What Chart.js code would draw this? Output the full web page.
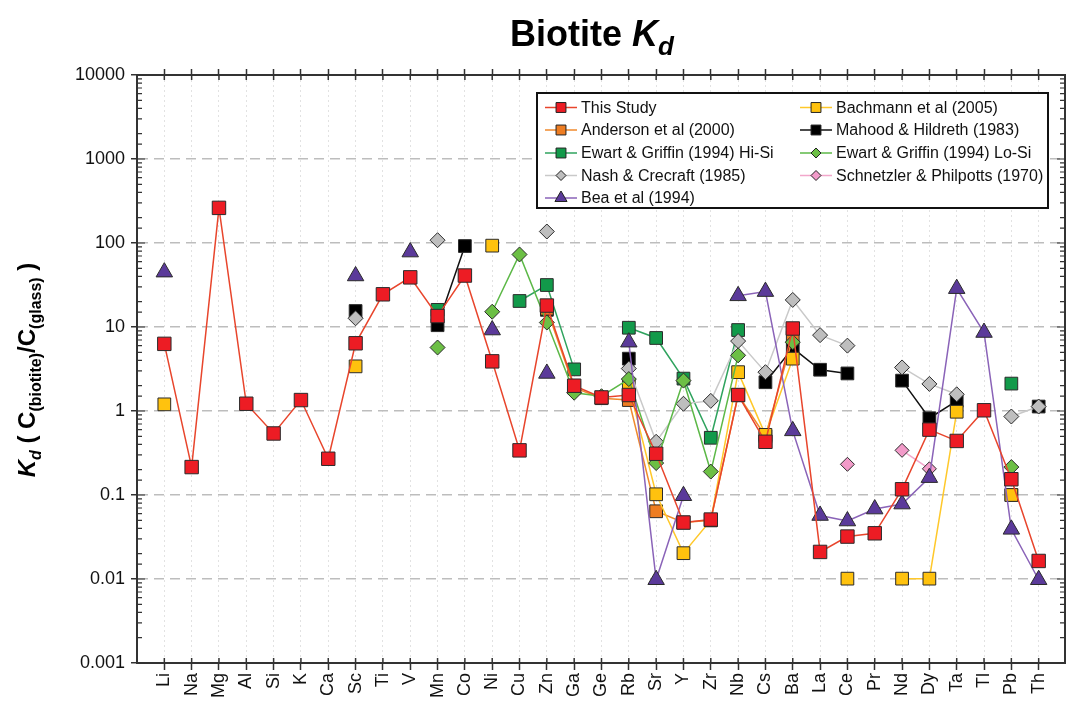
<!DOCTYPE html>
<html>
<head>
<meta charset="utf-8">
<title>Biotite Kd</title>
<script src="https://cdn.jsdelivr.net/npm/chart.js@4.4.1/dist/chart.umd.min.js"></script>
<style>
  html, body { margin: 0; padding: 0; background: #fff; }
  canvas { display: block; }
</style>
</head>
<body>
<canvas id="kdChart" width="1066" height="709"></canvas>
<script>
const NA = null;

// element order along the x axis
const elements = ['Li','Na','Mg','Al','Si','K','Ca','Sc','Ti','V','Mn','Co','Ni','Cu','Zn','Ga','Ge',
                  'Rb','Sr','Y','Zr','Nb','Cs','Ba','La','Ce','Pr','Nd','Dy','Ta','Tl','Pb','Th'];

// y axis decades
const decadeLabels = [0.001, 0.01, 0.1, 1, 10, 100, 1000, 10000];

// partition coefficients, one value per element (NA = not measured)
const thisStudy  = [6.3, 0.215, 262, 1.22, 0.54, 1.35, 0.27, 6.4, 24.5, 39, 13.5, 41, 3.9, 0.34, 18, 2.0, 1.45,
                    1.55, 0.31, 0.047, 0.051, 1.55, 0.43, 9.6, 0.021, 0.032, 0.035, 0.117, 0.6, 0.44, 1.02, 0.154, 0.0164];
const bachmann   = [1.2, NA, NA, NA, NA, NA, NA, 3.4, NA, NA, NA, NA, 93, NA, NA, NA, NA,
                    2.0, 0.102, 0.0203, 0.05, 2.9, 0.52, 4.2, NA, 0.0101, NA, 0.0101, 0.0101, 0.98, NA, 0.1, NA];
const anderson   = [NA, NA, NA, NA, NA, NA, NA, NA, NA, NA, NA, NA, NA, NA, 16.5, 1.9, 1.42,
                    1.35, 0.064, 0.047, 0.05, 1.55, 0.5, 7.5, NA, NA, NA, NA, NA, NA, NA, 0.1, NA];
const mahood     = [NA, NA, NA, NA, NA, NA, NA, 15.5, NA, NA, 10.5, 92, NA, NA, 16, NA, NA,
                    4.2, NA, NA, NA, NA, 2.2, 5.6, 3.1, 2.8, NA, 2.3, 0.82, 1.32, NA, NA, 1.13];
const ewartHiSi  = [NA, NA, NA, NA, NA, NA, NA, NA, NA, NA, 16, NA, NA, 20.4, 31.6, 3.13, NA,
                    9.8, 7.4, 2.43, 0.48, 9.2, NA, NA, NA, NA, NA, NA, NA, NA, NA, 2.12, NA];
const ewartLoSi  = [NA, NA, NA, NA, NA, NA, NA, NA, NA, NA, 5.7, NA, 15.2, 73, 11.3, 1.65, 1.5,
                    2.4, 0.24, 2.3, 0.19, 4.6, NA, 6.6, NA, NA, NA, NA, NA, NA, NA, 0.215, NA];
const nash       = [NA, NA, NA, NA, NA, NA, NA, 12.7, NA, NA, 108, NA, NA, NA, 137, NA, NA,
                    3.2, 0.43, 1.22, 1.32, 6.8, 2.9, 21, 8.0, 6.0, NA, 3.3, 2.1, 1.58, NA, 0.86, 1.13];
const schnetzler = [NA, NA, NA, NA, NA, NA, NA, NA, NA, NA, NA, NA, NA, NA, NA, NA, NA,
                    NA, NA, NA, NA, NA, NA, NA, NA, 0.232, NA, 0.34, 0.205, NA, NA, NA, NA];
const bea        = [45, NA, NA, NA, NA, NA, NA, 40.5, NA, 78, NA, NA, 9.2, NA, 2.8, NA, NA,
                    6.6, 0.0098, 0.098, NA, 23.5, 26.4, 0.58, 0.057, 0.049, 0.068, 0.078, 0.161, 28.6, 8.6, 0.039, 0.0098];

const FONT = '"Liberation Sans", Arial, Helvetica, sans-serif';

const toPoints = arr => arr.map((v, i) => ({ x: i, y: v }));
const isDecade = v => Math.abs(Math.log10(v) - Math.round(Math.log10(v))) < 1e-6;

function series(label, values, fill, line, style, radius) {
  return {
    label,
    data: toPoints(values),
    borderColor: line,
    backgroundColor: fill,
    borderWidth: 1.5,
    pointStyle: style,
    pointRadius: radius,
    pointBackgroundColor: fill,
    pointBorderColor: '#2b2b2b',
    pointBorderWidth: 1,
    spanGaps: false,
    tension: 0
  };
}

// first dataset is painted last (on top)
const datasets = [
  series('This Study', thisStudy, '#ED1C24', '#E8452C', 'rect', 9.5),
  series('Bea et al (1994)', bea, '#5B3A9A', '#8A63B8', 'triangle', 9.5),
  series('Schnetzler & Philpotts (1970)', schnetzler, '#F29BC9', '#F2A7CB', 'rectRot', 7),
  series('Ewart & Griffin (1994) Lo-Si', ewartLoSi, '#6CBF45', '#5CB847', 'rectRot', 7.5),
  series('Nash & Crecraft (1985)', nash, '#BEBEBE', '#C9C9C9', 'rectRot', 7.5),
  series('Bachmann et al (2005)', bachmann, '#FFC20E', '#FFC82A', 'rect', 9),
  series('Anderson et al (2000)', anderson, '#EE7D22', '#F08A2C', 'rect', 9),
  series('Mahood & Hildreth (1983)', mahood, '#000000', '#111111', 'rect', 9),
  series('Ewart & Griffin (1994) Hi-Si', ewartHiSi, '#129A4A', '#2FA35E', 'rect', 9)
];

// legend layout: two columns, column-major
const legendColumns = [
  ['This Study', 'Anderson et al (2000)', 'Ewart & Griffin (1994) Hi-Si', 'Nash & Crecraft (1985)', 'Bea et al (1994)'],
  ['Bachmann et al (2005)', 'Mahood & Hildreth (1983)', 'Ewart & Griffin (1994) Lo-Si', 'Schnetzler & Philpotts (1970)']
];

function drawRuns(ctx, runs, x, y, anchor) {
  let total = 0;
  runs.forEach(r => { ctx.font = r.font; r.w = ctx.measureText(r.text).width; total += r.w; });
  let cx = anchor === 'center' ? x - total / 2 : x;
  runs.forEach(r => {
    ctx.font = r.font;
    ctx.fillText(r.text, cx, y + (r.dy || 0));
    cx += r.w;
  });
}

const decorations = {
  id: 'decorations',
  afterDraw(chart) {
    const ctx = chart.ctx;
    const area = chart.chartArea;
    const ys = chart.scales.y;
    const xs = chart.scales.x;

    ctx.save();
    ctx.fillStyle = '#000';
    ctx.textBaseline = 'alphabetic';
    ctx.textAlign = 'left';

    // title
    drawRuns(ctx, [
      { text: 'Biotite ', font: 'bold 36px ' + FONT },
      { text: 'K', font: 'italic bold 36px ' + FONT },
      { text: 'd', font: 'italic bold 26px ' + FONT, dy: 9 }
    ], 592, 46, 'center');

    // y axis title, rotated
    ctx.save();
    ctx.translate(35, 370);
    ctx.rotate(-Math.PI / 2);
    drawRuns(ctx, [
      { text: 'K', font: 'italic bold 24px ' + FONT },
      { text: 'd', font: 'italic bold 16px ' + FONT, dy: 6 },
      { text: ' ( ', font: 'bold 24px ' + FONT },
      { text: 'C', font: 'bold 24px ' + FONT },
      { text: '(biotite)', font: 'bold 16px ' + FONT, dy: 6 },
      { text: '/C', font: 'bold 24px ' + FONT },
      { text: '(glass)', font: 'bold 16px ' + FONT, dy: 6 },
      { text: ' )', font: 'bold 24px ' + FONT }
    ], 0, 0, 'center');
    ctx.restore();

    // right border and inward tick marks on both vertical axes
    ctx.strokeStyle = '#333';
    ctx.lineWidth = 2;
    ctx.beginPath();
    ctx.moveTo(area.right - 1, area.top);
    ctx.lineTo(area.right - 1, area.bottom);
    ctx.stroke();
    ctx.lineWidth = 1.2;
    ys.ticks.forEach(t => {
      const py = ys.getPixelForValue(t.value);
      const len = isDecade(t.value) ? 8 : 5;
      ctx.beginPath();
      ctx.moveTo(area.left, py); ctx.lineTo(area.left + len, py);
      ctx.moveTo(area.right - 1, py); ctx.lineTo(area.right - 1 - len, py);
      ctx.stroke();
    });
    // inward part of the category ticks, top and bottom
    ctx.lineWidth = 1.5;
    elements.forEach((e, i) => {
      const px = xs.getPixelForValue(i);
      ctx.beginPath();
      ctx.moveTo(px, area.top); ctx.lineTo(px, area.top + 5);
      ctx.moveTo(px, area.bottom); ctx.lineTo(px, area.bottom - 5);
      ctx.stroke();
    });

    // legend box
    const box = { x: 537, y: 93, w: 511, h: 115 };
    ctx.fillStyle = '#fff';
    ctx.fillRect(box.x, box.y, box.w, box.h);
    ctx.strokeStyle = '#111';
    ctx.lineWidth = 2;
    ctx.strokeRect(box.x, box.y, box.w, box.h);

    const colX = [545, 800];
    const rowY = [107.5, 130, 153, 175.5, 198];
    const sizes = { rect: 7, rectRot: 5, triangle: 7 };
    ctx.font = '16px ' + FONT;
    ctx.textBaseline = 'middle';
    legendColumns.forEach((col, c) => {
      col.forEach((label, r) => {
        const ds = chart.data.datasets.find(d => d.label === label);
        const x0 = colX[c], y0 = rowY[r];
        ctx.strokeStyle = ds.borderColor;
        ctx.lineWidth = 1.5;
        ctx.beginPath();
        ctx.moveTo(x0, y0); ctx.lineTo(x0 + 32, y0);
        ctx.stroke();
        ctx.fillStyle = ds.pointBackgroundColor;
        ctx.strokeStyle = '#222';
        ctx.lineWidth = 1;
        Chart.helpers.drawPoint(ctx, { pointStyle: ds.pointStyle, radius: sizes[ds.pointStyle], borderWidth: 1, rotation: 0 }, x0 + 16, y0);
        ctx.fillStyle = '#111';
        ctx.fillText(label, x0 + 36, y0 + 1);
      });
    });
    ctx.restore();
  }
};

const categoryTicks = scale => { scale.ticks = elements.map((e, i) => ({ value: i })); };
const fitHeight = h => scale => { scale.height = h; scale.paddingLeft = 0; scale.paddingRight = 0; };

new Chart(document.getElementById('kdChart'), {
  type: 'line',
  data: { datasets },
  plugins: [decorations],
  options: {
    responsive: false,
    animation: false,
    events: [],
    layout: { padding: 0, autoPadding: false },
    plugins: { legend: { display: false }, tooltip: { enabled: false } },
    scales: {
      x: {
        type: 'linear',
        position: 'bottom',
        min: -1,
        max: 33,
        afterBuildTicks: categoryTicks,
        afterFit: fitHeight(46),
        ticks: {
          autoSkip: false,
          minRotation: 90,
          maxRotation: 90,
          padding: 3,
          color: '#111',
          font: { family: FONT, size: 18 },
          callback: v => elements[v] ?? ''
        },
        grid: { color: '#E2E2E2', lineWidth: 1, tickColor: '#333', tickLength: 7, tickWidth: 1.5 },
        border: { color: '#333', width: 2, dash: [2, 3] }
      },
      xTop: {
        type: 'linear',
        position: 'top',
        min: -1,
        max: 33,
        afterBuildTicks: categoryTicks,
        afterFit: fitHeight(75),
        ticks: { display: false },
        grid: { drawOnChartArea: false, tickColor: '#333', tickLength: 6, tickWidth: 1.5 },
        border: { color: '#333', width: 2 }
      },
      y: {
        type: 'logarithmic',
        min: 0.001,
        max: 10000,
        afterFit: s => { s.width = 137; },
        ticks: {
          autoSkip: false,
          padding: 6,
          color: '#111',
          font: { family: FONT, size: 18 },
          callback: v => {
            const d = decadeLabels.find(l => Math.abs(Math.log10(l) - Math.log10(v)) < 1e-6);
            return d === undefined ? '' : String(d);
          }
        },
        grid: {
          color: c => (c.tick && isDecade(c.tick.value)) ? '#BDBDBD' : 'rgba(0,0,0,0)',
          lineWidth: 1.5,
          tickColor: c => (c.tick && isDecade(c.tick.value)) ? '#333' : 'rgba(0,0,0,0)',
          tickLength: 6,
          tickWidth: 1.5
        },
        border: { color: '#333', width: 2, dash: [10, 6] }
      }
    }
  }
});
</script>
</body>
</html>
